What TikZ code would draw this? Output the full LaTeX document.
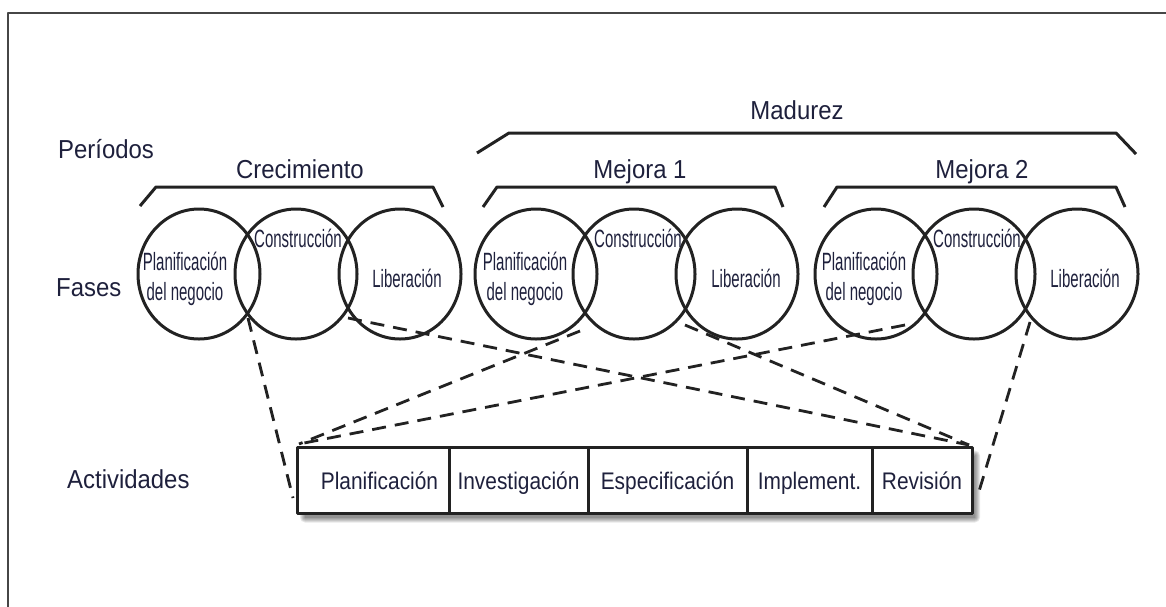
\documentclass[tikz,border=0pt]{standalone}
\usepackage{fontspec}
\setmainfont{Liberation Sans}
\newfontfamily\circfont{Liberation Sans}[FakeStretch=0.6]
\newfontfamily\boxfont{Liberation Sans}[FakeStretch=0.87]
\newfontfamily\labfont{Liberation Sans}[FakeStretch=0.92]
\usetikzlibrary{shapes.geometric,calc,backgrounds}
\definecolor{inkcol}{RGB}{34,34,34}
\definecolor{txtcol}{RGB}{30,32,60}
\definecolor{framecol}{RGB}{70,70,70}
\begin{document}
\begin{tikzpicture}[x=1pt,y=-1pt,line join=round,
  ink/.style={draw=inkcol,line width=3pt},
  phase/.style={ellipse,draw=inkcol,line width=3pt,minimum width=122pt,minimum height=130pt,inner sep=0pt},
  ctext/.style={font=\circfont\fontsize{25}{30}\selectfont,text=txtcol,inner sep=0pt,anchor=base,align=center},
  lab/.style={font=\labfont\fontsize{26}{30}\selectfont,text=txtcol,inner sep=0pt,anchor=base},
  cell/.style={draw=inkcol,line width=3pt,fill=white,minimum height=66pt,inner sep=0pt,outer sep=0pt,
    text height=18pt,text depth=1pt,font=\boxfont\fontsize{24}{28}\selectfont,text=txtcol,anchor=west},
  dashline/.style={draw=inkcol,line width=2.8pt,dash pattern=on 14pt off 9pt}]
\useasboundingbox (0,0) rectangle (1166,606);
% frame
\draw[draw=framecol,line width=1.8pt] (8,620) -- (8,13) -- (1180,13);

% left labels
\node[lab,anchor=base west] (lper) at (58,158) {Períodos};
\node[lab,anchor=base west] (lfas) at (56,296) {Fases};
\node[lab,anchor=base west] (lact) at (67,488) {Actividades};

% period labels
\node[lab] (pcre) at (300,178) {Crecimiento};
\node[lab] (pm1) at (640,178) {Mejora 1};
\node[lab] (pm2) at (982,178) {Mejora 2};
\node[lab] (pmad) at (797,119) {Madurez};

% brackets
\draw[ink] (140,206) -- (156,187) -- (433,187) -- (443,207);
\draw[ink] (483,207) -- (497,187) -- (775,187) -- (783,207);
\draw[ink] (824,207) -- (837,187) -- (1116,187) -- (1125,207);
\draw[ink] (477,153) -- (509,133) -- (1116,133) -- (1136,154);

% phase circles
\node[phase] (g1a) at (199,274) {};
\node[phase] (g1b) at (296,274) {};
\node[phase] (g1c) at (400,274) {};
\node[phase] (g2a) at (536,274) {};
\node[phase] (g2b) at (634,274) {};
\node[phase] (g2c) at (737,274) {};
\node[phase] (g3a) at (876,274) {};
\node[phase] (g3b) at (974,274) {};
\node[phase] (g3c) at (1077,274) {};

% phase texts
\node[ctext] (t1a) at (185,300) {Planificación\\del negocio};
\node[ctext] (t1b) at (298,247) {Construcción};
\node[ctext] (t1c) at (407,287) {Liberación};
\node[ctext] (t2a) at (525,300) {Planificación\\del negocio};
\node[ctext] (t2b) at (638,247) {Construcción};
\node[ctext] (t2c) at (746,287) {Liberación};
\node[ctext] (t3a) at (864,300) {Planificación\\del negocio};
\node[ctext] (t3b) at (977,247) {Construcción};
\node[ctext] (t3c) at (1085,287) {Liberación};

% activity cells
\node[cell,minimum width=152pt] (c1) at (297,480.5) {\hspace*{13pt}Planificación};
\node[cell,minimum width=139pt] (c2) at (c1.east) {Investigación};
\node[cell,minimum width=159pt] (c3) at (c2.east) {Especificación};
\node[cell,minimum width=125pt] (c4) at (c3.east) {Implement.};
\node[cell,minimum width=100pt] (c5) at (c4.east) {Revisión};

% shadow
\begin{scope}[on background layer]
\foreach \s in {0,1,2,3,4,5}
  \fill[black,opacity=0.09,rounded corners=\s pt]
    ($(c1.north west)+(8-\s,8-\s)$) rectangle ($(c5.south east)+(3+\s,4+\s)$);
\end{scope}

% connector end points
\coordinate (x1) at (248,318);
\coordinate (x2) at (348,318);
\coordinate (x3) at (580,331);
\coordinate (x4) at (685,325);
\coordinate (x5) at (905,325);
\coordinate (x6) at (1030,322);
\coordinate (eL) at (293,498);
\coordinate (eR) at (977,498);
\coordinate (bL) at (299,444);
\coordinate (bR) at (969,445);

\draw[dashline] (x1) -- (eL);
\draw[dashline] (x2) -- (bR);
\draw[dashline] (x3) -- (bL);
\draw[dashline] (x4) -- (bR);
\draw[dashline] (x5) -- (bL);
\draw[dashline] (x6) -- (eR);
\end{tikzpicture}
\end{document}
